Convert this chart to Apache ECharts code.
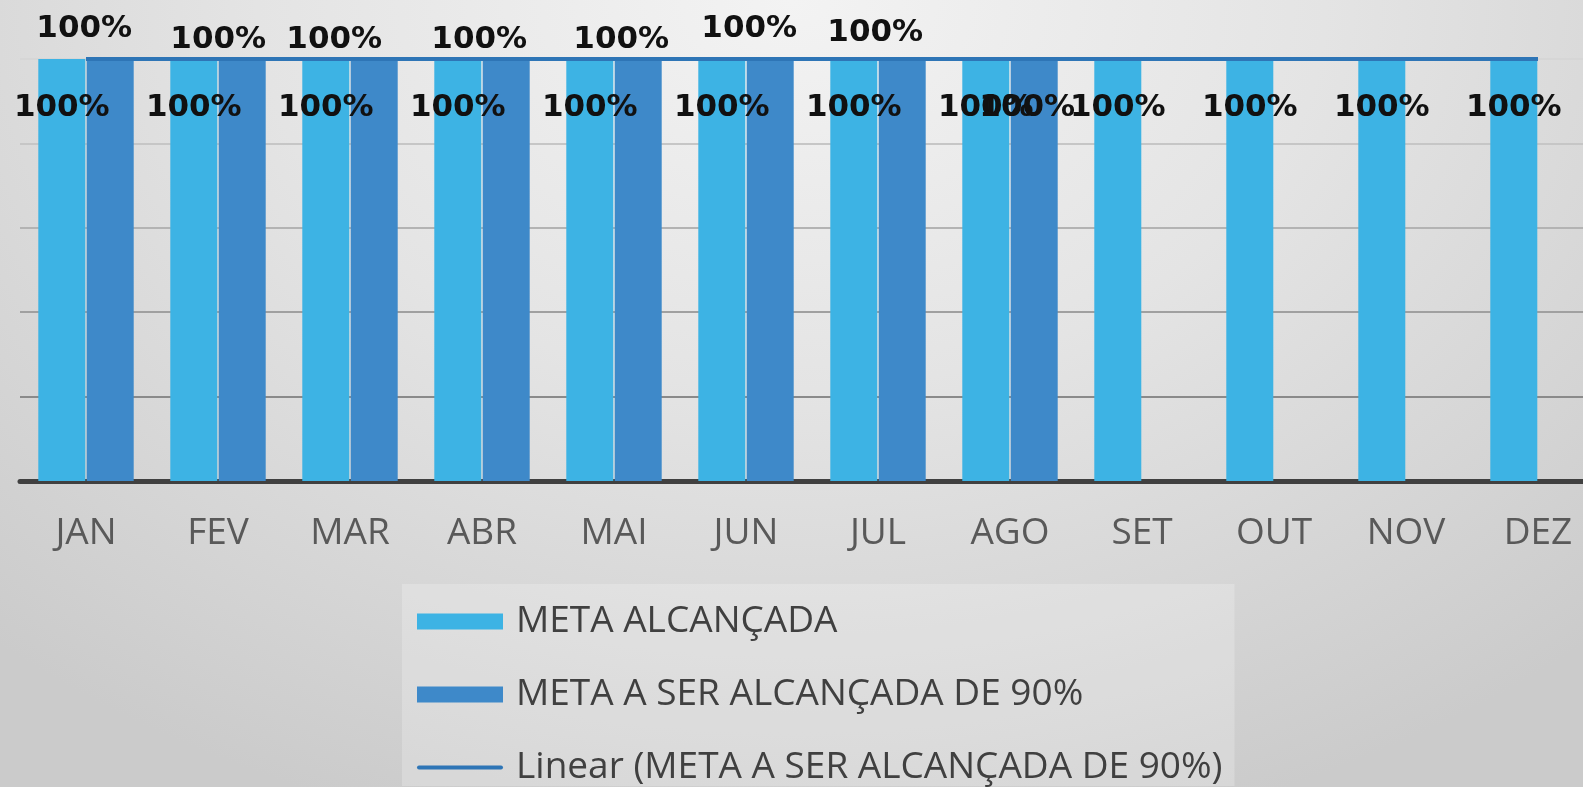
<!DOCTYPE html>
<html>
<head>
<meta charset="utf-8">
<script src="https://cdn.jsdelivr.net/npm/echarts@6/dist/echarts.min.js"></script>
<style>
  html, body { margin: 0; padding: 0; }
  body {
    width: 1583px; height: 787px; overflow: hidden;
    background: radial-gradient(ellipse 75% 110% at 50% 0%, #f3f3f3 0%, #e4e4e4 45%, #cbcbcb 100%);
  }
  #chart { width: 1583px; height: 787px; }
</style>
</head>
<body>
<div id="chart"></div>
<script>
// Months of the year
const months = ['JAN', 'FEV', 'MAR', 'ABR', 'MAI', 'JUN', 'JUL', 'AGO', 'SET', 'OUT', 'NOV', 'DEZ'];
// Goal reached each month (%)
const metaAlcancada = [100, 100, 100, 100, 100, 100, 100, 100, 100, 100, 100, 100];
// Goal to be reached (90% target), filled through AGO (%)
const metaASerAlcancada = [100, 100, 100, 100, 100, 100, 100, 100, null, null, null, null];
// Linear trend of the 90% target series (%)
const tendenciaLinear = [100, 100, 100, 100, 100, 100, 100, 100, 100, 100, 100, 100];

const serieNames = ['META ALCANÇADA', 'META A SER ALCANÇADA DE 90%', 'Linear (META A SER ALCANÇADA DE 90%)'];

const BAR_W = 47;
// Hand-placed label positions for the darker series: [dx from bar centre, dy from bar top]
const darkLabelPlace = [[-26, -30], [-24, -19], [-40, -19], [-27, -19], [-17, -19], [-21, -30], [-27, -26], [-7, 49]];

const labelFont = { fontFamily: 'DejaVu Sans', fontWeight: 'bold', fontSize: 31, color: '#111' };

const darkData = metaASerAlcancada.map((v, i) => {
  if (v == null) return v;
  const p = darkLabelPlace[i] || [0, -19];
  return {
    value: v,
    label: { position: [BAR_W / 2 + p[0], p[1]] }
  };
});

const chart = echarts.init(document.getElementById('chart'), null, { renderer: 'canvas' });
chart.setOption({
  backgroundColor: 'transparent',
  animation: false,
  // plot area runs past the right edge of the canvas
  grid: { left: 20, width: 1584, top: 59, height: 422, containLabel: false, outerBoundsMode: 'none' },
  xAxis: {
    type: 'category',
    data: months,
    axisLine: { show: true, lineStyle: { color: '#404040', width: 5 } },
    axisTick: { show: false },
    axisLabel: { color: '#595959', fontFamily: 'Open Sans', fontSize: 37, margin: 34 }
  },
  yAxis: {
    type: 'value',
    min: 0, max: 100, interval: 20,
    axisLabel: { show: false },
    axisLine: { show: false },
    axisTick: { show: false },
    splitLine: {
      show: true,
      lineStyle: { width: 2, color: ['#777', '#8a8a8a', '#a0a0a0', '#b3b3b3', '#c6c6c6', '#d6d6d6'] }
    }
  },
  legend: {
    orient: 'vertical',
    left: 402,
    top: 584,
    padding: [19, 12, 0, 15],
    backgroundColor: 'rgba(255,255,255,0.22)',
    itemWidth: 86,
    itemHeight: 16,
    itemGap: 36,
    textStyle: { color: '#404040', fontFamily: 'Open Sans', fontSize: 37, lineHeight: 36, padding: [0, 0, 0, 8] },
    data: [
      { name: serieNames[0], icon: 'rect' },
      { name: serieNames[1], icon: 'rect' },
      { name: serieNames[2], icon: 'path://M2,0 L84,0 A2,2 0 0 1 84,4 L2,4 A2,2 0 0 1 2,0 Z' }
    ]
  },
  series: [
    {
      name: serieNames[0],
      type: 'bar',
      data: metaAlcancada,
      barWidth: BAR_W,
      barGap: '3%',
      itemStyle: { color: '#3db3e4' },
      label: Object.assign({
        show: true,
        position: ['50%', 49],
        align: 'center',
        verticalAlign: 'middle',
        formatter: '{c}%'
      }, labelFont),
      z: 2
    },
    {
      name: serieNames[1],
      type: 'bar',
      data: darkData,
      barWidth: BAR_W,
      barGap: '3%',
      itemStyle: { color: '#3e89c9' },
      label: Object.assign({
        show: true,
        align: 'center',
        verticalAlign: 'middle',
        formatter: '{c}%'
      }, labelFont),
      labelLayout: { hideOverlap: false },
      z: 2
    },
    {
      name: serieNames[2],
      type: 'line',
      data: tendenciaLinear,
      symbol: 'none',
      showSymbol: false,
      lineStyle: { color: '#2e75b6', width: 4 },
      itemStyle: { color: '#2e75b6' },
      z: 3
    }
  ]
});
</script>
</body>
</html>
